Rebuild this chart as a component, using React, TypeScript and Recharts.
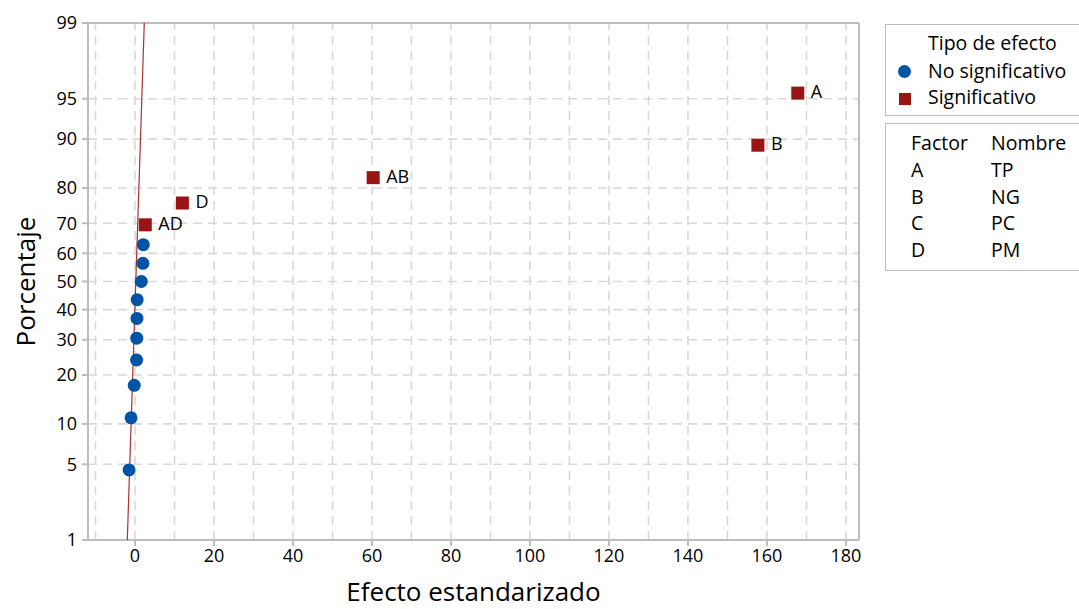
import React from 'react';
import {
  ScatterChart, Scatter, XAxis, YAxis, ReferenceLine, LabelList,
} from 'recharts';

// ---- data ----
const nsEffects = [-1.5, -1.0, -0.2, 0.4, 0.45, 0.5, 0.55, 1.6, 2.0, 2.1];
const nsPercents = [4.5, 11.0, 17.5, 24.0, 30.5, 37.0, 43.5, 50.0, 56.5, 63.0];
const sigLabels = ['AD', 'D', 'AB', 'B', 'A'];
const sigEffects = [2.6, 12.0, 60.3, 157.7, 167.8];
const sigPercents = [69.5, 76.0, 82.5, 89.0, 95.5];
const refLineEffects = [-1.95, 2.35];
const refLinePercents = [1, 99];
const xTicks = [0, 20, 40, 60, 80, 100, 120, 140, 160, 180];
const xGrid = [-10, 0, 10, 20, 30, 40, 50, 60, 70, 80, 90, 100, 110, 120, 130, 140, 150, 160, 170, 180];
const yTickPercents = [1, 5, 10, 20, 30, 40, 50, 60, 70, 80, 90, 95, 99];
const yGridPercents = [5, 10, 20, 30, 40, 50, 60, 70, 80, 90, 95];
const factorLetters = ['A', 'B', 'C', 'D'];
const factorNames = ['TP', 'NG', 'PC', 'PM'];

// inverse normal CDF (probability-scale transform for the y axis)
function probit(pct: number): number {
  const p = pct / 100;
  const a = [-3.969683028665376e+01, 2.209460984245205e+02, -2.759285104469687e+02, 1.383577518672690e+02, -3.066479806614716e+01, 2.506628277459239e+00];
  const b = [-5.447609879822406e+01, 1.615858368580409e+02, -1.556989798598866e+02, 6.680131188771972e+01, -1.328068155288572e+01];
  const c = [-7.784894002430293e-03, -3.223964580411365e-01, -2.400758277161838e+00, -2.549732539343734e+00, 4.374664141464968e+00, 2.938163982698783e+00];
  const d = [7.784695709041462e-03, 3.224671290700398e-01, 2.445134137142996e+00, 3.754408661907416e+00];
  const pl = 0.02425;
  if (p < pl) {
    const q = Math.sqrt(-2 * Math.log(p));
    return (((((c[0] * q + c[1]) * q + c[2]) * q + c[3]) * q + c[4]) * q + c[5]) / ((((d[0] * q + d[1]) * q + d[2]) * q + d[3]) * q + 1);
  }
  if (p <= 1 - pl) {
    const q = p - 0.5;
    const r = q * q;
    return (((((a[0] * r + a[1]) * r + a[2]) * r + a[3]) * r + a[4]) * r + a[5]) * q / (((((b[0] * r + b[1]) * r + b[2]) * r + b[3]) * r + b[4]) * r + 1);
  }
  const q = Math.sqrt(-2 * Math.log(1 - p));
  return -(((((c[0] * q + c[1]) * q + c[2]) * q + c[3]) * q + c[4]) * q + c[5]) / ((((d[0] * q + d[1]) * q + d[2]) * q + d[3]) * q + 1);
}

const nsData = nsEffects.map((x, i) => ({ x, z: probit(nsPercents[i]) }));
const sigData = sigEffects.map((x, i) => ({ x, z: probit(sigPercents[i]), name: sigLabels[i] }));
const refData = refLineEffects.map((x, i) => ({ x, z: probit(refLinePercents[i]) }));
const yTicks = yTickPercents.map(probit);
const yGrid = yGridPercents.map(probit);
const zMin = probit(1);
const zMax = probit(99);
const xMin = -11.9;
const xMax = 183.3;

const FONT = '"Open Sans", "Noto Sans", sans-serif';
const BLUE = '#0054A6';
const RED = '#9B1414';
const LINE = '#A83232';
const AXIS = '#BDBDBD';
const GRID = '#D9D9D9';
const TXT = '#000';

const fmtY = (v: number) => {
  let best = 0;
  let bd = Infinity;
  yTicks.forEach((t, i) => {
    const dd = Math.abs(t - v);
    if (dd < bd) { bd = dd; best = i; }
  });
  return String(yTickPercents[best]);
};

const Circle = (props: any) => {
  const { cx, cy } = props;
  if (cx == null || cy == null) return null;
  return <circle cx={cx} cy={cy} r={6.5} fill={BLUE} />;
};
const Square = (props: any) => {
  const { cx, cy } = props;
  if (cx == null || cy == null) return null;
  return <rect x={cx - 6.5} y={cy - 6.5} width={13} height={13} fill={RED} />;
};
const NoShape = () => null;

const PointLabel = (props: any) => {
  const { x, y, width, height, value } = props;
  const cx = x + (width || 0) / 2;
  const cy = y + (height || 0) / 2;
  return (
    <text x={cx + 13} y={cy - 2} dominantBaseline="central" fontSize={18} fontFamily={FONT} fill={TXT}>
      {value}
    </text>
  );
};

const YLabel = (props: any) => {
  const vb = props.viewBox || {};
  const cy = (vb.y || 0) + (vb.height || 0) / 2;
  return (
    <text x={0} y={0} transform={`translate(25, ${cy}) rotate(-90)`} textAnchor="middle" dominantBaseline="central"
      fontSize={26} fontFamily={FONT} fill={TXT}>Porcentaje</text>
  );
};
const XLabel = (props: any) => {
  const vb = props.viewBox || {};
  const cx = (vb.x || 0) + (vb.width || 0) / 2;
  return (
    <text x={cx} y={601} textAnchor="middle"
      fontSize={26} fontFamily={FONT} fill={TXT}>Efecto estandarizado</text>
  );
};

const legendText: React.CSSProperties = {
  position: 'absolute', fontFamily: FONT, fontSize: 19.5, color: TXT, lineHeight: '20px', whiteSpace: 'nowrap',
};

export default function App() {
  return (
    <div style={{ position: 'absolute', left: 0, top: 0, width: 1079, height: 609, overflow: 'hidden', background: '#fff' }}>
      <ScatterChart width={1079} height={609} margin={{ top: 23, right: 220, bottom: 0, left: 0 }}>
        <XAxis type="number" dataKey="x" domain={[xMin, xMax]} ticks={xTicks} allowDataOverflow
          height={69} tickSize={6} tickMargin={3}
          stroke={AXIS} strokeWidth={2}
          tick={{ fill: TXT, fontSize: 18, fontFamily: FONT }}
          label={<XLabel />} />
        <YAxis type="number" dataKey="z" domain={[zMin, zMax]} ticks={yTicks} allowDataOverflow
          width={88} tickSize={6} tickMargin={5} tickFormatter={fmtY} interval={0}
          stroke={AXIS} strokeWidth={2}
          tick={{ fill: TXT, fontSize: 18, fontFamily: FONT }}
          label={<YLabel />} />
        {xGrid.map((g) => (
          <ReferenceLine key={'vx' + g} x={g} stroke={GRID} strokeWidth={1.6} strokeDasharray="9 6" />
        ))}
        {yGrid.map((g, i) => (
          <ReferenceLine key={'hy' + i} y={g} stroke={GRID} strokeWidth={1.6} strokeDasharray="9 6" />
        ))}
        <ReferenceLine y={zMax} stroke={AXIS} strokeWidth={2} />
        <ReferenceLine x={xMax} stroke={AXIS} strokeWidth={2} />
        <Scatter data={refData} dataKey="z" line={{ stroke: LINE, strokeWidth: 1.2 }} shape={<NoShape />} isAnimationActive={false} />
        <Scatter data={nsData} dataKey="z" shape={<Circle />} isAnimationActive={false} />
        <Scatter data={sigData} dataKey="z" shape={<Square />} isAnimationActive={false}>
          <LabelList dataKey="name" content={<PointLabel />} />
        </Scatter>
      </ScatterChart>

      <div style={{ position: 'absolute', left: 885, top: 24, width: 220, height: 90, border: `1.5px solid ${AXIS}` }} />
      <div style={{ ...legendText, left: 928, top: 33 }}>Tipo de efecto</div>
      <div style={{ position: 'absolute', left: 898, top: 65, width: 13, height: 13, borderRadius: 7, background: BLUE }} />
      <div style={{ ...legendText, left: 928, top: 61 }}>No significativo</div>
      <div style={{ position: 'absolute', left: 899, top: 93, width: 12, height: 12, background: RED }} />
      <div style={{ ...legendText, left: 928, top: 87 }}>Significativo</div>

      <div style={{ position: 'absolute', left: 885, top: 123, width: 220, height: 146, border: `1.5px solid ${AXIS}` }} />
      <div style={{ ...legendText, left: 911, top: 133 }}>Factor</div>
      <div style={{ ...legendText, left: 991, top: 133 }}>Nombre</div>
      {factorLetters.map((f, i) => (
        <React.Fragment key={f}>
          <div style={{ ...legendText, left: 911, top: 160 + i * 26.7 }}>{f}</div>
          <div style={{ ...legendText, left: 991, top: 160 + i * 26.7 }}>{factorNames[i]}</div>
        </React.Fragment>
      ))}
    </div>
  );
}
